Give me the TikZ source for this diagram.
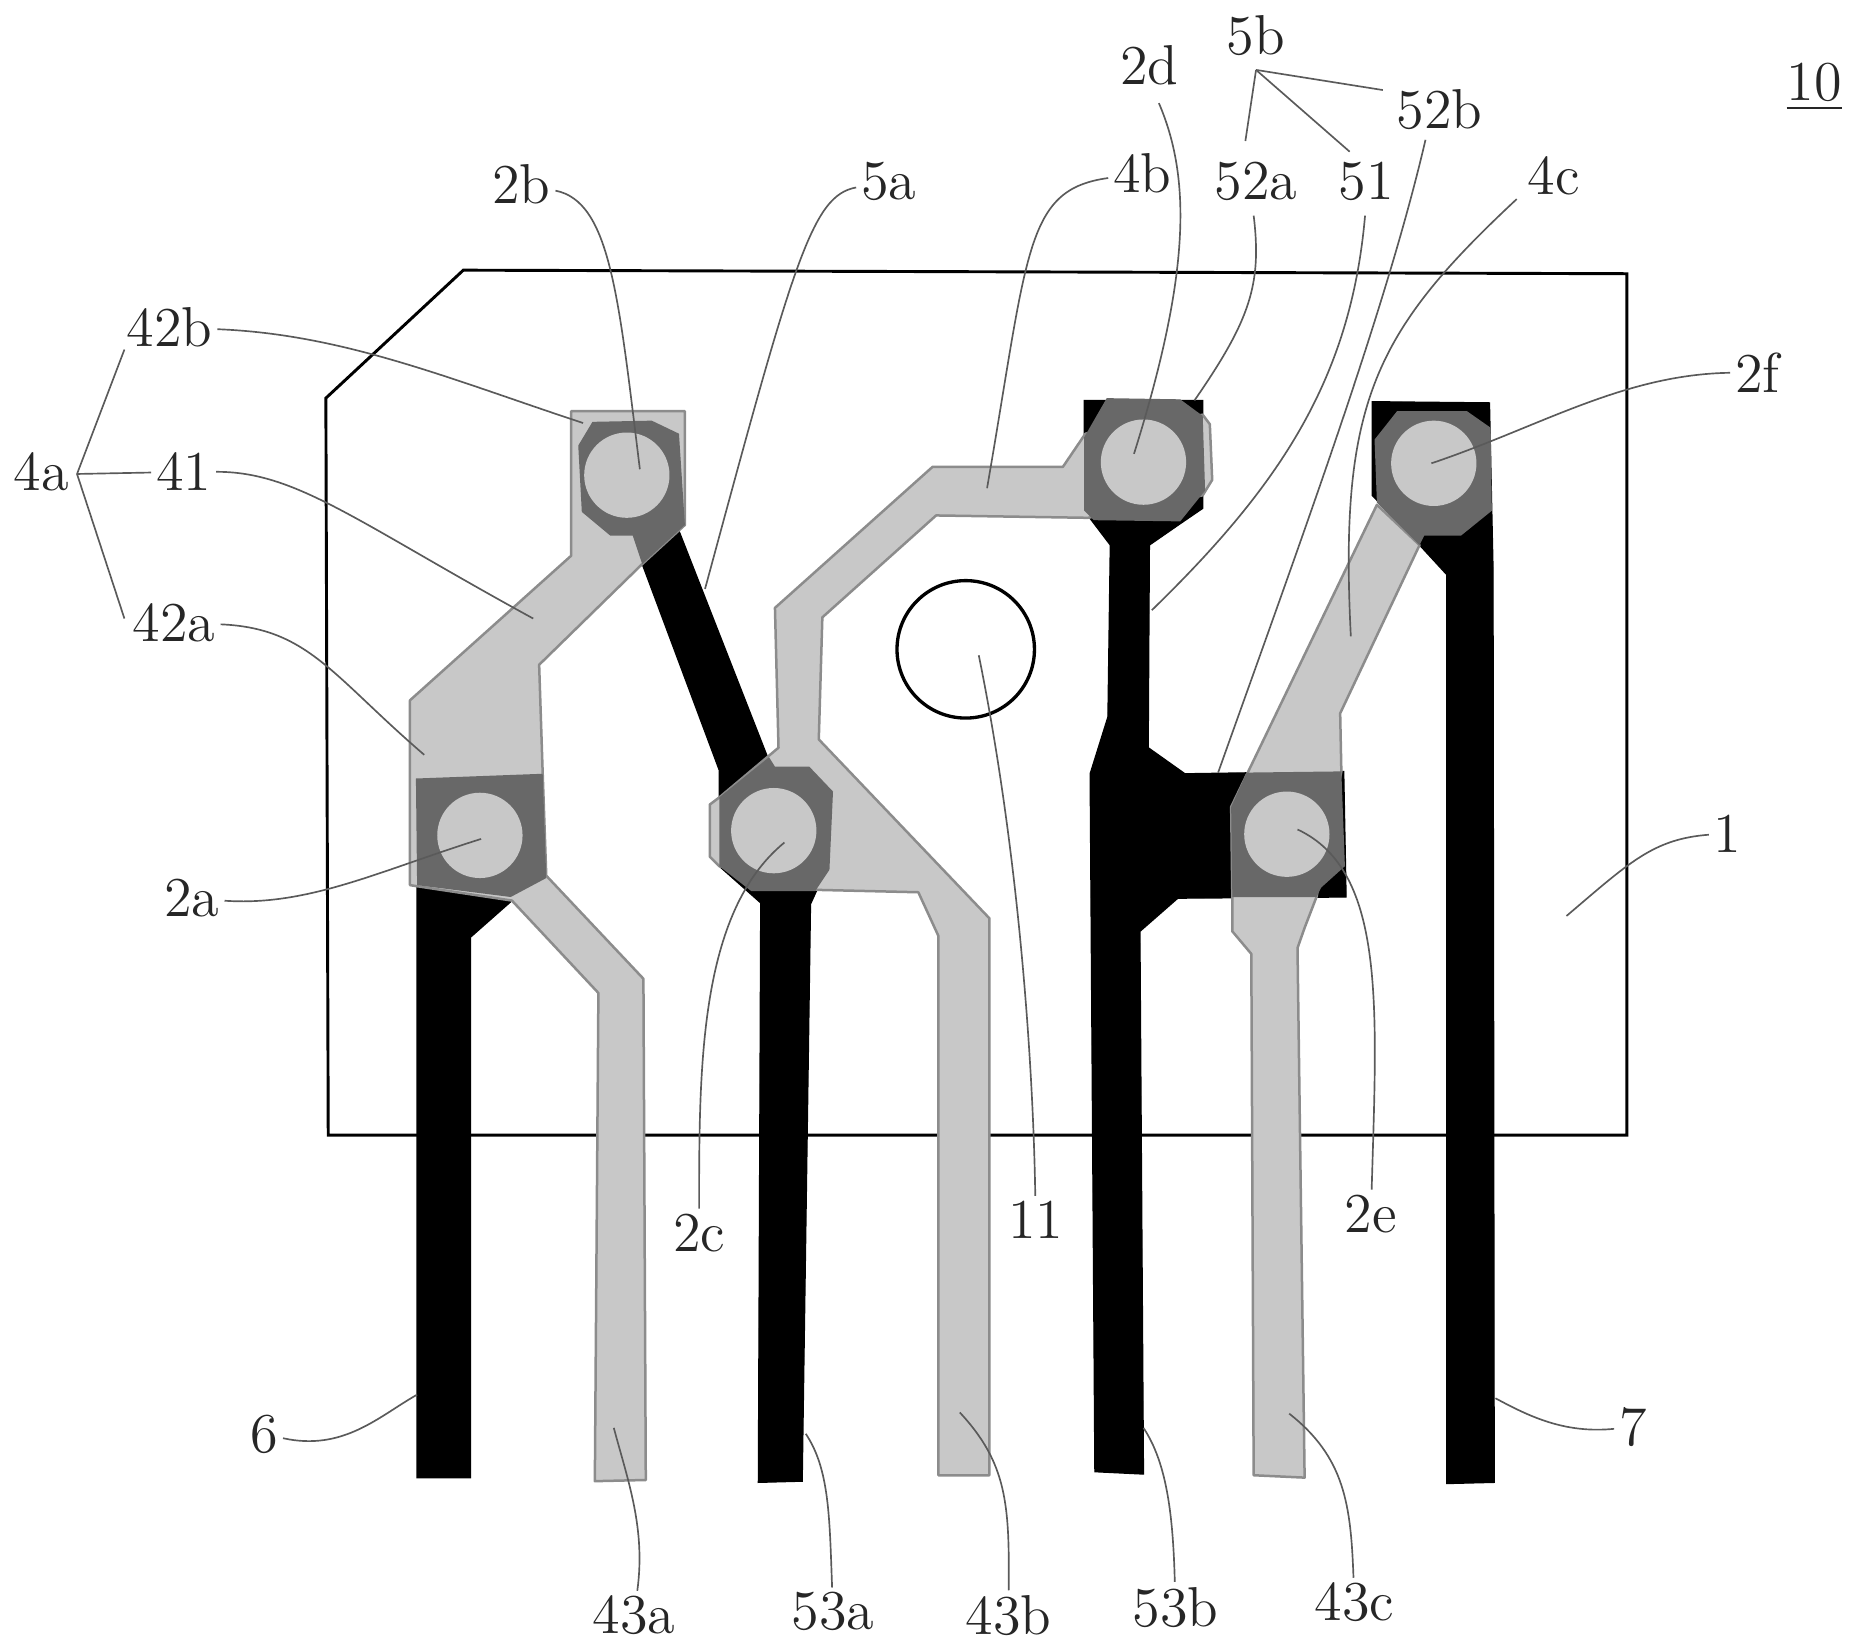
\documentclass[tikz,border=0pt]{standalone}
\usepackage{tikz}

\definecolor{pale}{HTML}{C8C8C8}
\definecolor{padgray}{HTML}{686868}
\definecolor{edgegray}{HTML}{8C8C8C}
\definecolor{leadgray}{HTML}{5A5A5A}

\tikzset{
	lbl/.style={inner sep=1pt,yshift=.5pt,text=black!85,font=\fontsize{13.5}{15}\selectfont},
	metal/.style={fill=black,draw=black,line width=.3pt},
	film/.style={fill=pale,draw=edgegray,line width=.6pt,line join=round},
	padfill/.style={fill=padgray,draw=none},
	viahole/.style={fill=pale,draw=none},
	leader/.style={draw=leadgray,line width=.4pt},
}

\begin{document}
\begin{tikzpicture}[x=.01cm,y=-.01cm]
	\useasboundingbox (0,0) rectangle (1568,1394);
	% board
	\draw[line width=.7pt] (391,228) -- (1373,231) -- (1373,958) -- (277,958) -- (275,336) -- cycle;
	\draw[line width=.8pt] (815,548) circle (58);
	% black traces
	\fill[metal] (352,747) -- (431,757) -- (431,761) -- (397,791) -- (397,1247) -- (352,1247) -- cycle;
	\fill[metal] (573,448) -- (647,637) -- (689,752) -- (684,763) -- (677,1250) -- (640,1251) -- (642,762) -- (607,731) -- (607,650) -- (542,476) -- cycle;
	\fill[metal] (915,338) -- (1015,338) -- (1015,429) -- (996,442) -- (970,460) -- (969,631) -- (1000,653) -- (1134,651) -- (1136,757) -- (994,758) -- (962,786) -- (965,1244) -- (924,1242) -- (920,653) -- (935,605) -- (937,460) -- (915,431) -- cycle;
	\fill[metal] (1158,339) -- (1257,340) -- (1260,480) -- (1261,1251) -- (1221,1252) -- (1221,485) -- (1198,460) -- (1158,418) -- cycle;
	% gray traces
	\filldraw[film] (482,347) -- (578,347) -- (578,443) -- (542,476) -- (455,561) -- (458,653) -- (461,739) -- (543,826) -- (545,1249) -- (502,1250) -- (505,838) -- (432,760) -- (346,747) -- (346,591) -- (482,469) -- cycle;
	\filldraw[film] (654,513) -- (787,394) -- (897,394) -- (916,366) -- (1015,350) -- (1021,358) -- (1023,405) -- (1015,418) -- (918,437) -- (790,435) -- (694,521) -- (691,624) -- (835,775) -- (835,1245) -- (792,1245) -- (792,790) -- (775,753) -- (690,751) -- (607,731) -- (599,723) -- (599,679) -- (607,673) -- (657,631) -- cycle;
	\filldraw[film] (1162,426) -- (1198,460) -- (1131,602) -- (1132,651) -- (1111,757) -- (1101,783) -- (1095,800) -- (1101,1247) -- (1058,1245) -- (1056,805) -- (1040,786) -- (1040,757) -- (1039,681) -- (1053,652) -- cycle;
	% pads
	\fill[padfill] (351,657) -- (458,653) -- (461,741) -- (431,757) -- (352,747) -- cycle;
	\fill[padfill] (500,356) -- (550,355) -- (573,366) -- (578,443) -- (542,476) -- (534,452) -- (515,452) -- (491,432) -- (488,376) -- cycle;
	\fill[padfill] (649,639) -- (654,647) -- (683,647) -- (703,668) -- (700,734) -- (688,752) -- (634,752) -- (607,731) -- (607,673) -- cycle;
	\fill[padfill] (934,336) -- (996,337) -- (1015,351) -- (1017,414) -- (996,440) -- (923,439) -- (915,431) -- (915,369) -- cycle;
	\fill[padfill] (1052,652) -- (1132,651) -- (1135,731) -- (1115,749) -- (1111,757) -- (1040,757) -- (1039,681) -- cycle;
	\fill[padfill] (1179,347) -- (1238,347) -- (1258,361) -- (1259,431) -- (1233,452) -- (1202,452) -- (1198,460) -- (1162,424) -- (1160,371) -- cycle;
	\foreach \cx/\cy in {405/705,529/401,653/701,965/390,1086/704,1210/391}
		\fill[viahole] (\cx,\cy) circle (36);
	% labels
	\node[lbl] (n10) at (1531,75) {\underline{10}};
	\node[lbl] (n5b) at (1060,32) {5b};
	\node[lbl] (n2d) at (970,57) {2d};
	\node[lbl] (n52b) at (1215,94) {52b};
	\node[lbl] (n2b) at (440,157) {2b};
	\node[lbl] (n5a) at (750,155) {5a};
	\node[lbl] (n4b) at (964,148) {4b};
	\node[lbl] (n52a) at (1060,155) {52a};
	\node[lbl] (n51) at (1153,155) {51};
	\node[lbl] (n4c) at (1311,150) {4c};
	\node[lbl] (n42b) at (143,278) {42b};
	\node[lbl] (n2f) at (1483,316) {2f};
	\node[lbl] (n41) at (155,400) {41};
	\node[lbl] (n4a) at (35,400) {4a};
	\node[lbl] (n42a) at (147,527) {42a};
	\node[lbl] (n1) at (1458,705) {1};
	\node[lbl] (n2a) at (162,760) {2a};
	\node[lbl] (n2c) at (590,1042) {2c};
	\node[lbl] (n11) at (874,1031) {11};
	\node[lbl] (n2e) at (1157,1026) {2e};
	\node[lbl] (n6) at (223,1212) {6};
	\node[lbl] (n7) at (1378,1206) {7};
	\node[lbl] (n43a) at (535,1365) {43a};
	\node[lbl] (n53a) at (703,1362) {53a};
	\node[lbl] (n43b) at (851,1365) {43b};
	\node[lbl] (n53b) at (992,1358) {53b};
	\node[lbl] (n43c) at (1143,1354) {43c};
	% leader ends
	\coordinate (a5b) at (1060,59);
	\coordinate (a4a) at (65,400);
	\coordinate (e2b) at (540,396);
	\coordinate (e5a) at (595,497);
	\coordinate (e4b) at (833,412);
	\coordinate (e2d) at (957,383);
	\coordinate (e52a) at (1008,338);
	\coordinate (e51) at (972,515);
	\coordinate (e52b) at (1028,652);
	\coordinate (e4c) at (1140,537);
	\coordinate (e42b) at (492,357);
	\coordinate (e41) at (450,522);
	\coordinate (e42a) at (358,637);
	\coordinate (e2a) at (406,708);
	\coordinate (e2c) at (662,711);
	\coordinate (e11) at (826,553);
	\coordinate (e2e) at (1095,700);
	\coordinate (e1) at (1322,773);
	\coordinate (e2f) at (1208,391);
	\coordinate (e6) at (352,1177);
	\coordinate (e7) at (1262,1180);
	\coordinate (e43a) at (518,1205);
	\coordinate (e53a) at (680,1210);
	\coordinate (e43b) at (810,1192);
	\coordinate (e53b) at (965,1205);
	\coordinate (e43c) at (1088,1193);
	% leaders
	\draw[leader] (a5b) -- (1051,119);
	\draw[leader] (a5b) -- (1139,128);
	\draw[leader] (a5b) -- (1167,76);
	\draw[leader] (a4a) -- (105,295);
	\draw[leader] (a4a) -- (n41);
	\draw[leader] (a4a) -- (105,522);
	\draw[leader] (n2b) .. controls (515,170) and (522,250) .. (e2b);
	\draw[leader] (n5a) .. controls (685,165) and (670,220) .. (e5a);
	\draw[leader] (n4b) .. controls (865,160) and (868,210) .. (e4b);
	\draw[leader] (978,87) .. controls (1005,150) and (1005,230) .. (e2d);
	\draw[leader] (1058,182) .. controls (1065,240) and (1055,270) .. (e52a);
	\draw[leader] (1152,182) .. controls (1140,320) and (1080,410) .. (e51);
	\draw[leader] (1203,118) .. controls (1170,260) and (1100,450) .. (e52b);
	\draw[leader] (1280,168) .. controls (1160,280) and (1130,340) .. (e4c);
	\draw[leader] (n42b) .. controls (290,282) and (380,320) .. (e42b);
	\draw[leader] (n41) .. controls (250,398) and (300,440) .. (e41);
	\draw[leader] (n42a) .. controls (260,530) and (280,570) .. (e42a);
	\draw[leader] (n2a) .. controls (260,765) and (320,735) .. (e2a);
	\draw[leader] (n2c) .. controls (590,900) and (590,770) .. (e2c);
	\draw[leader] (n11) .. controls (872,900) and (860,720) .. (e11);
	\draw[leader] (n2e) .. controls (1162,850) and (1170,735) .. (e2e);
	\draw[leader] (n1) .. controls (1395,708) and (1375,728) .. (e1);
	\draw[leader] (n2f) .. controls (1370,316) and (1300,360) .. (e2f);
	\draw[leader] (n6) .. controls (290,1225) and (320,1195) .. (e6);
	\draw[leader] (n7) .. controls (1320,1210) and (1290,1195) .. (e7);
	\draw[leader] (n43a) .. controls (545,1290) and (530,1250) .. (e43a);
	\draw[leader] (n53a) .. controls (700,1280) and (700,1240) .. (e53a);
	\draw[leader] (n43b) .. controls (852,1270) and (850,1235) .. (e43b);
	\draw[leader] (n53b) .. controls (990,1280) and (985,1235) .. (e53b);
	\draw[leader] (n43c) .. controls (1140,1270) and (1135,1230) .. (e43c);
\end{tikzpicture}
\end{document}
